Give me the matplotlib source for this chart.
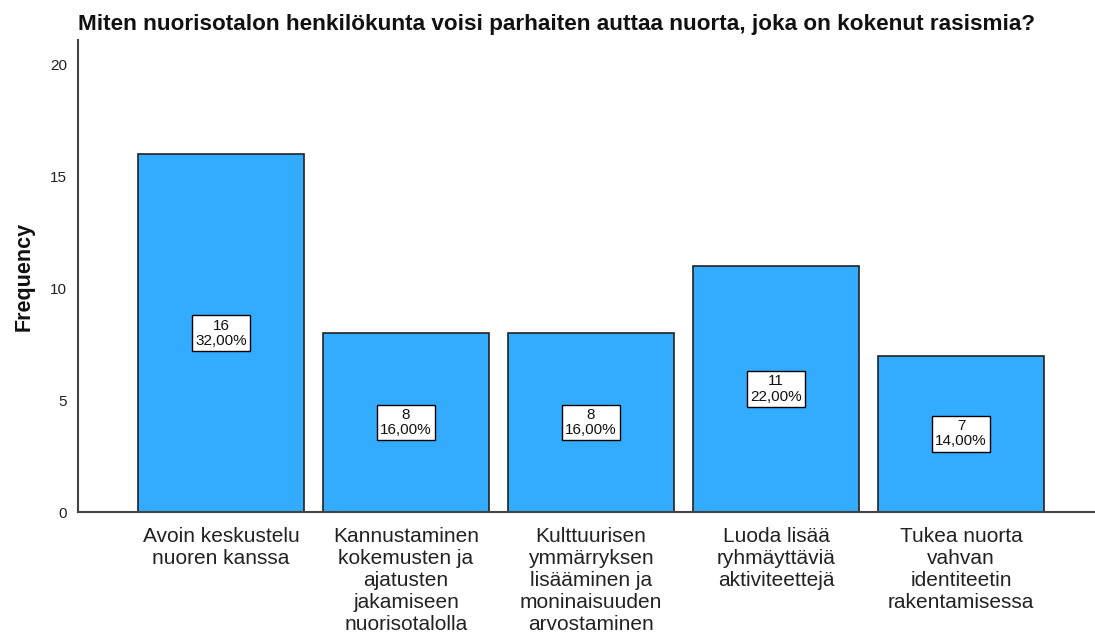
import matplotlib
matplotlib.use('Agg')
import matplotlib.pyplot as plt

# Data
categories = [
    'Avoin keskustelu\nnuoren kanssa',
    'Kannustaminen\nkokemusten ja\najatusten\njakamiseen\nnuorisotalolla',
    'Kulttuurisen\nymmärryksen\nlisääminen ja\nmoninaisuuden\narvostaminen',
    'Luoda lisää\nryhmäyttäviä\naktiviteettejä',
    'Tukea nuorta\nvahvan\nidentiteetin\nrakentamisessa',
]
counts = [16, 8, 8, 11, 7]
percents = ['32,00%', '16,00%', '16,00%', '22,00%', '14,00%']
yticks = [0, 5, 10, 15, 20]

plt.rcParams['font.family'] = ['Liberation Sans', 'DejaVu Sans']

fig = plt.figure(figsize=(10.95, 6.34), dpi=100)
ax = fig.add_axes([0.0712, 0.1924, 0.9288, 0.7446])

x = list(range(len(categories)))
ax.bar(x, counts, width=0.897, color='#33acff', edgecolor='#222222', linewidth=1.2, zorder=2)

for xi, c, p in zip(x, counts, percents):
    ax.text(xi, c / 2, f'{c}\n{p}', ha='center', va='center', fontsize=11,
            color='#111111', linespacing=1.12, zorder=3,
            bbox=dict(boxstyle='square,pad=0.2', facecolor='white',
                      edgecolor='black', linewidth=1))

ax.set_xlim(-0.773, 4.724)
ax.set_ylim(0, 21.12)
ax.set_xticks(x)
ax.set_xticklabels(categories, fontsize=15, color='#222222', linespacing=1.2, va='top')
ax.set_yticks(yticks)
ax.set_yticklabels([str(t) for t in yticks], fontsize=11, color='#222222')
ax.tick_params(axis='y', length=0, pad=8)
ax.tick_params(axis='x', length=0, pad=11)

for s in ['top', 'right']:
    ax.spines[s].set_visible(False)
for s in ['left', 'bottom']:
    ax.spines[s].set_color('#444444')
    ax.spines[s].set_linewidth(1.5)

ax.set_ylabel('Frequency', fontsize=15.5, fontweight='bold', color='#111111', labelpad=11)
fig.text(0.0712, 0.962, 'Miten nuorisotalon henkilökunta voisi parhaiten auttaa nuorta, joka on kokenut rasismia?',
         fontsize=16.2, fontweight='bold', color='#111111', ha='left', va='center')

fig.savefig('out.png', dpi=100, facecolor='white')
